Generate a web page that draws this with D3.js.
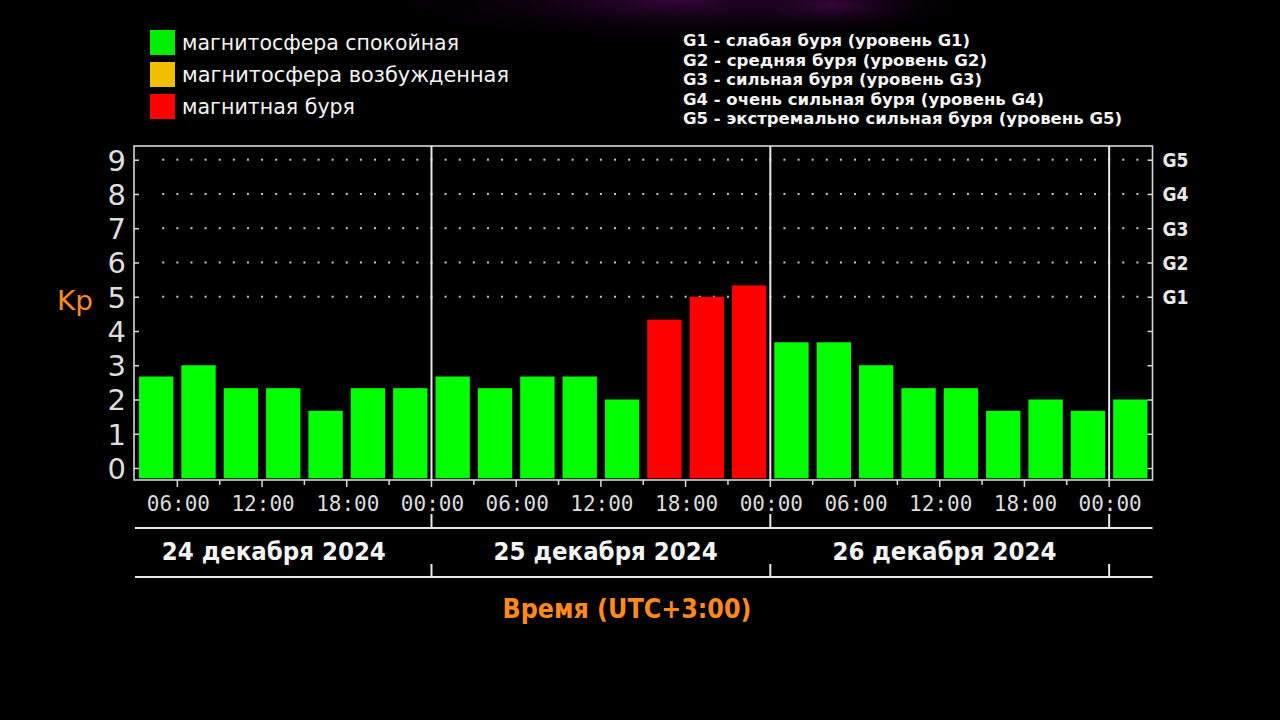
<!DOCTYPE html>
<html>
<head>
<meta charset="utf-8">
<script src="https://cdn.jsdelivr.net/npm/d3@7/dist/d3.min.js"></script>
<style>
html,body{margin:0;padding:0;background:#000;}
svg{display:block;}
</style>
</head>
<body>
<svg id="chart" width="1280" height="720"></svg>
<script>
// ---------------- DATA ----------------
const startTime = "2024-12-24T03:00";
const endTime = "2024-12-27T03:00";
const kpValues = [2.67, 3.0, 2.33, 2.33, 1.67, 2.33, 2.33,
                  2.67, 2.33, 2.67, 2.67, 2.0, 4.33, 5.0, 5.33,
                  3.67, 3.67, 3.0, 2.33, 2.33, 1.67, 2.0, 1.67,
                  2.0];
const yTicks = [0, 1, 2, 3, 4, 5, 6, 7, 8, 9];
const gLevels = ["G1", "G2", "G3", "G4", "G5"];
const gKp = [5, 6, 7, 8, 9];
const dayBoundaries = ["2024-12-25T00:00", "2024-12-26T00:00", "2024-12-27T00:00"];
const dayLabels = ["24 декабря 2024", "25 декабря 2024", "26 декабря 2024"];
const dayLabelAnchors = ["2024-12-24T12:50", "2024-12-25T12:20", "2024-12-26T12:20"];
const legendLabels = ["магнитосфера спокойная", "магнитосфера возбужденная", "магнитная буря"];
const gLegend = ["G1 - слабая буря (уровень G1)", "G2 - средняя буря (уровень G2)",
                 "G3 - сильная буря (уровень G3)", "G4 - очень сильная буря (уровень G4)",
                 "G5 - экстремально сильная буря (уровень G5)"];
const xTitle = "Время (UTC+3:00)";
const yTitle = "Kp";

// ---------------- STYLE ----------------
const colors = {quiet: "#00ff00", active: "#f0c000", storm: "#ff0000"};
const legendColors = ["#00ee00", "#f0c000", "#ff0000"];
const axisCol = "#d8d8d8";
const orange = "#ff8a1a";

const parse = d3.utcParse("%Y-%m-%dT%H:%M");
const t0 = parse(startTime), t1 = parse(endTime);
const svg = d3.select("#chart");

// background glow
const defs = svg.append("defs");
const rg = defs.append("radialGradient").attr("id", "glow");
rg.append("stop").attr("offset", "0%").attr("stop-color", "#3a0640").attr("stop-opacity", 0.9);
rg.append("stop").attr("offset", "100%").attr("stop-color", "#000").attr("stop-opacity", 0);
svg.append("rect").attr("width", 1280).attr("height", 720).attr("fill", "#000");
svg.append("ellipse").attr("cx", 680).attr("cy", 0).attr("rx", 320).attr("ry", 45).attr("fill", "url(#glow)");
svg.append("ellipse").attr("cx", 830).attr("cy", 5).attr("rx", 130).attr("ry", 30).attr("fill", "url(#glow)");

// ---------------- SCALES ----------------
const x = d3.scaleUtc().domain([t0, t1]).range([135, 1151.5]);
const y = d3.scaleLinear().domain([-0.35, 9.4]).range([480, 146]);

const hour = 3600 * 1000;
const bars = kpValues.map((v, i) => ({
  start: new Date(t0.getTime() + i * 3 * hour),
  end: new Date(t0.getTime() + (i + 1) * 3 * hour),
  kp: v,
  status: v < 4 ? "quiet" : (v < 4.3 ? "active" : "storm")
}));

// dotted grid at G levels
const dotTimes = d3.utcMinute.every(90).range(new Date(t0.getTime() + 90 * 60000), t1);
const g = svg.append("g");
gKp.forEach(k => {
  g.selectAll(null).data(dotTimes).enter().append("rect")
    .attr("x", d => x(d) - 1).attr("y", y(k) - 1)
    .attr("width", 2).attr("height", 2).attr("fill", "#c8c8c8");
});

// bars
svg.append("g").selectAll("rect").data(bars).enter().append("rect")
  .attr("x", d => x(d.start) + 4)
  .attr("width", d => x(d.end) - x(d.start) - 8)
  .attr("y", d => y(d.kp))
  .attr("height", d => y(-0.3) - y(d.kp))
  .attr("fill", d => colors[d.status]);

// frame
const [xl, xr] = x.range();
svg.append("rect").attr("x", xl - 1).attr("y", y(9.4)).attr("width", xr - xl + 2).attr("height", y(-0.35) - y(9.4))
  .attr("fill", "none").attr("stroke", axisCol).attr("stroke-width", 1.6);

// day dividers in plot
dayBoundaries.forEach(s => {
  const xx = x(parse(s));
  svg.append("line").attr("x1", xx).attr("x2", xx).attr("y1", y(9.4)).attr("y2", y(-0.35))
    .attr("stroke", "#e8e8e8").attr("stroke-width", 2);
});

// y axis left
const yAxisL = d3.axisLeft(y).tickValues(yTicks).tickSize(-5).tickPadding(10).tickFormat(d3.format("d"));
const gl = svg.append("g").attr("transform", `translate(${xl - 1},0)`).call(yAxisL);
gl.select(".domain").remove();
gl.selectAll(".tick line").attr("stroke", axisCol).attr("stroke-width", 1.5);
gl.selectAll(".tick text").attr("fill", "#dedede").attr("font-family", "DejaVu Sans")
  .attr("font-size", 29).attr("dy", "0.36em").attr("x", -8);

// y axis right (G levels)
const yAxisR = d3.axisRight(y).tickValues(yTicks).tickSize(-5).tickPadding(12)
  .tickFormat(d => { const i = gKp.indexOf(d); return i >= 0 ? gLevels[i] : ""; });
const gr = svg.append("g").attr("transform", `translate(${xr + 1},0)`).call(yAxisR);
gr.select(".domain").remove();
gr.selectAll(".tick line").attr("stroke", axisCol).attr("stroke-width", 1.5);
gr.selectAll(".tick text").attr("fill", "#e8e8e8").attr("font-family", "DejaVu Sans")
  .attr("font-weight", "bold").attr("font-size", 19).attr("dy", "0.36em").attr("x", 10)
  .attr("textLength", 26).attr("lengthAdjust", "spacingAndGlyphs");

// x axis ticks
const ticks3 = d3.utcHour.every(3).range(new Date(t0.getTime() + 3 * hour), t1);
svg.append("g").selectAll("line").data(ticks3).enter().append("line")
  .attr("x1", d => x(d)).attr("x2", d => x(d))
  .attr("y1", y(-0.35)).attr("y2", d => y(-0.35) + (d.getUTCHours() % 6 === 0 ? 7 : 5))
  .attr("stroke", axisCol).attr("stroke-width", 1.5);

const ticks6 = ticks3.filter(d => d.getUTCHours() % 6 === 0);
const fmt = d3.utcFormat("%H:%M");
svg.append("g").selectAll("text").data(ticks6).enter().append("text")
  .attr("x", d => x(d) + 1).attr("y", 511)
  .attr("text-anchor", "middle").attr("fill", "#dcdcdc")
  .attr("font-family", "DejaVu Sans Mono").attr("font-size", 21)
  .text(d => fmt(d));

// horizontal separators
[528, 577].forEach(yy => {
  svg.append("line").attr("x1", xl).attr("x2", xr + 1).attr("y1", yy).attr("y2", yy)
    .attr("stroke", "#e8e8e8").attr("stroke-width", 2);
});
dayBoundaries.forEach(s => {
  const xx = x(parse(s));
  svg.append("line").attr("x1", xx).attr("x2", xx).attr("y1", 514).attr("y2", 528)
    .attr("stroke", "#e8e8e8").attr("stroke-width", 2);
  svg.append("line").attr("x1", xx).attr("x2", xx).attr("y1", 564).attr("y2", 577)
    .attr("stroke", "#e8e8e8").attr("stroke-width", 2);
});

// day labels
svg.append("g").selectAll("text").data(dayLabels).enter().append("text")
  .attr("x", (d, i) => x(parse(dayLabelAnchors[i])))
  .attr("y", 560).attr("text-anchor", "middle")
  .attr("fill", "#f4f4f4").attr("font-family", "DejaVu Sans").attr("font-weight", "bold")
  .attr("font-size", 24).attr("textLength", 224).attr("lengthAdjust", "spacingAndGlyphs")
  .text(d => d);

// axis titles
svg.append("text").attr("x", 627).attr("y", 618).attr("text-anchor", "middle")
  .attr("fill", orange).attr("font-family", "DejaVu Sans").attr("font-weight", "bold")
  .attr("font-size", 26).attr("textLength", 249).attr("lengthAdjust", "spacingAndGlyphs")
  .text(xTitle);
svg.append("text").attr("x", 57).attr("y", 310)
  .attr("fill", orange).attr("font-family", "DejaVu Sans")
  .attr("font-size", 26).attr("textLength", 36).attr("lengthAdjust", "spacingAndGlyphs")
  .text(yTitle);

// left legend
const legW = [277, 327, 173];
const lg = svg.append("g");
legendLabels.forEach((t, i) => {
  lg.append("rect").attr("x", 150).attr("y", 30 + i * 32).attr("width", 25).attr("height", 25)
    .attr("fill", legendColors[i]);
  lg.append("text").attr("x", 182).attr("y", 50 + i * 32)
    .attr("fill", "#f4f4f4").attr("font-family", "DejaVu Sans").attr("font-size", 21)
    .attr("textLength", legW[i]).attr("lengthAdjust", "spacingAndGlyphs").text(t);
});

// right legend
const gW = [287, 304, 299, 361, 439];
gLegend.forEach((t, i) => {
  svg.append("text").attr("x", 683).attr("y", 46 + i * 19.6)
    .attr("fill", "#f4f4f4").attr("font-family", "DejaVu Sans").attr("font-weight", "bold")
    .attr("font-size", 16.5).attr("textLength", gW[i]).attr("lengthAdjust", "spacingAndGlyphs").text(t);
});
</script>
</body>
</html>
